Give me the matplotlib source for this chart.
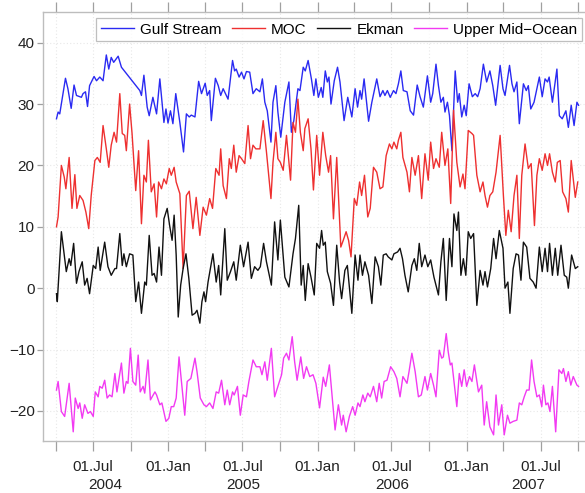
import numpy as np
import matplotlib
matplotlib.use("Agg")
import matplotlib.pyplot as plt
import matplotlib.dates as mdates
from matplotlib.ticker import FuncFormatter
import matplotlib.transforms as mtransforms

plt.rcParams['font.family'] = ['Liberation Sans', 'DejaVu Sans']

START = np.datetime64('2004-04-01')

# ---- data: (day offset from 2004-04-01, transport in Sv) ----
gulf_days = [1, 5, 9, 23, 29, 37, 44, 50, 62, 66, 72, 77, 82, 93, 99, 107, 115, 123, 129, 135,
             141, 152, 160, 205, 209, 215, 223, 228, 237, 246, 254, 264, 269, 274, 280, 286, 293,
             303, 312, 319, 326, 331, 340, 349, 356, 365, 370, 376, 380, 390, 397, 403, 409, 421,
             432, 437, 441, 448, 454, 460, 466, 474, 482, 490, 499, 505, 511, 517, 526, 531, 538,
             543, 550, 560, 570, 576, 582, 592, 597, 605, 610, 617, 625, 631, 636, 642, 649, 653,
             659, 664, 668, 673, 681, 689, 695, 705, 714, 724, 732, 738, 744, 748, 754, 765, 773,
             785, 793, 800, 805, 811, 818, 826, 832, 838, 844, 850, 859, 867, 875, 884, 891, 899,
             909, 917, 922, 930, 936, 942, 948, 952, 958, 963, 969, 977, 983, 987, 993, 999, 1004,
             1011, 1019, 1026, 1032, 1038, 1046, 1054, 1062, 1069, 1076, 1087, 1094, 1099, 1110,
             1116, 1121, 1128, 1134, 1144, 1151, 1156, 1162, 1170, 1183, 1190, 1197, 1203, 1207,
             1215, 1226, 1232, 1239, 1248, 1254, 1261, 1268, 1275, 1279]
gulf_vals = [27.6, 28.7, 28.4, 34.2, 32.5, 29.3, 33.1, 31.4, 31.1, 31.7, 32.0, 29.6, 33.0, 34.5,
             33.8, 34.4, 33.8, 38.0, 35.7, 37.6, 36.8, 37.8, 36.0, 32.2, 31.4, 34.7, 29.5, 28.1,
             31.1, 28.4, 34.1, 27.0, 29.2, 26.9, 28.9, 26.8, 31.7, 27.0, 22.2, 28.4, 27.9, 28.2,
             27.9, 33.7, 31.7, 33.4, 31.4, 32.2, 27.3, 34.2, 33.0, 31.4, 32.5, 30.8, 37.1, 35.4,
             35.7, 34.4, 35.2, 34.1, 35.3, 35.2, 31.7, 32.5, 32.0, 34.1, 30.3, 28.9, 23.8, 30.3,
             33.0, 28.7, 24.6, 30.3, 33.6, 25.4, 27.3, 32.5, 32.2, 36.0, 35.4, 37.1, 34.1, 31.4,
             34.1, 31.1, 32.7, 31.1, 35.4, 33.6, 34.4, 30.0, 33.8, 36.0, 33.6, 27.3, 31.1, 27.9,
             32.5, 29.5, 32.2, 30.8, 34.1, 27.2, 30.3, 34.1, 31.2, 32.2, 31.4, 32.2, 31.1, 32.2,
             31.7, 33.3, 35.4, 32.2, 32.0, 28.9, 28.2, 33.1, 31.2, 29.5, 34.6, 30.3, 31.7, 36.5,
             33.0, 30.3, 31.1, 28.7, 30.3, 28.1, 22.4, 35.4, 30.3, 31.7, 27.9, 29.8, 28.1, 33.3,
             31.2, 31.7, 31.2, 32.5, 36.5, 33.6, 35.4, 33.0, 29.8, 36.3, 32.5, 31.4, 36.3, 33.3,
             32.0, 33.6, 26.8, 33.3, 32.2, 33.0, 29.2, 30.3, 34.4, 31.2, 34.1, 33.6, 34.4, 30.3,
             35.7, 28.1, 27.6, 28.9, 26.2, 29.8, 26.5, 30.3, 29.8]

moc_days = [1, 5, 13, 20, 24, 32, 39, 46, 51, 58, 66, 73, 80, 86, 95, 101, 108, 115, 123, 129,
            135, 142, 148, 156, 162, 168, 172, 180, 186, 195, 202, 209, 215, 221, 226, 233, 240,
            246, 251, 258, 264, 270, 277, 282, 289, 294, 303, 311, 319, 326, 335, 343, 352, 360,
            368, 376, 383, 391, 399, 403, 409, 417, 424, 429, 435, 441, 448, 454, 462, 470, 476,
            482, 489, 499, 507, 515, 526, 531, 538, 543, 549, 556, 564, 574, 580, 586, 592, 598,
            605, 609, 617, 624, 630, 638, 645, 653, 660, 667, 672, 679, 687, 697, 703, 710, 716,
            722, 730, 736, 743, 748, 755, 763, 769, 777, 785, 793, 800, 808, 816, 822, 827, 834,
            838, 844, 849, 859, 865, 871, 879, 887, 895, 903, 911, 917, 924, 930, 938, 944, 952,
            959, 966, 973, 981, 989, 996, 1001, 1009, 1018, 1022, 1030, 1038, 1045, 1050, 1056,
            1062, 1069, 1077, 1087, 1095, 1101, 1107, 1114, 1121, 1128, 1134, 1140, 1148, 1156,
            1163, 1171, 1177, 1183, 1190, 1197, 1203, 1208, 1215, 1222, 1227, 1234, 1240, 1248,
            1254, 1261, 1271, 1277]
moc_vals = [10.0, 11.6, 20.0, 18.1, 16.2, 21.3, 13.0, 18.5, 13.0, 15.1, 14.3, 12.4, 9.7, 15.1,
            20.8, 21.3, 20.5, 26.5, 22.7, 19.7, 23.3, 25.4, 23.8, 31.7, 25.2, 24.9, 22.4, 30.0,
            25.2, 15.9, 22.4, 10.5, 18.4, 17.3, 24.1, 15.7, 17.0, 11.6, 17.3, 16.2, 17.8, 17.0,
            19.5, 18.4, 19.7, 17.3, 15.4, 3.2, 15.1, 15.8, 9.7, 14.8, 8.6, 13.2, 11.9, 14.6, 13.0,
            19.5, 18.4, 22.7, 16.7, 14.6, 21.1, 19.5, 23.3, 18.9, 21.6, 21.1, 20.3, 26.5, 21.1,
            23.3, 22.7, 22.7, 27.3, 22.2, 14.6, 20.5, 25.4, 21.1, 20.5, 19.2, 24.9, 17.6, 27.0,
            25.4, 30.8, 25.4, 22.4, 26.0, 27.6, 22.7, 16.0, 24.9, 18.4, 25.4, 21.6, 18.9, 21.6,
            11.3, 21.3, 6.7, 7.8, 9.2, 7.8, 5.1, 14.6, 13.5, 17.3, 15.1, 18.4, 11.6, 13.0, 19.7,
            18.9, 16.2, 16.5, 21.6, 23.5, 22.7, 23.8, 22.7, 24.1, 25.4, 21.3, 18.9, 15.7, 21.3,
            18.4, 21.6, 14.6, 21.9, 17.6, 23.8, 19.5, 21.1, 19.7, 25.4, 20.0, 22.7, 13.8, 29.0,
            20.5, 16.5, 18.6, 16.2, 25.7, 25.2, 24.9, 18.4, 15.7, 17.3, 15.1, 13.2, 15.1, 15.7,
            18.9, 24.9, 15.1, 8.6, 12.7, 9.2, 15.1, 18.4, 8.1, 18.4, 23.5, 19.5, 20.3, 10.2, 18.4,
            21.1, 19.2, 21.9, 20.0, 21.9, 18.9, 17.3, 20.5, 20.8, 15.7, 14.6, 12.4, 20.8, 14.8,
            17.3]

ekman_days = [1, 3, 13, 19, 25, 32, 36, 43, 50, 56, 64, 70, 76, 82, 91, 97, 103, 108, 119, 127,
              135, 144, 148, 156, 162, 166, 172, 180, 188, 195, 202, 209, 217, 221, 228, 235, 240,
              246, 252, 258, 264, 272, 278, 284, 289, 294, 299, 305, 311, 318, 325, 333, 340, 345,
              352, 357, 362, 366, 372, 384, 392, 398, 403, 413, 419, 427, 435, 441, 451, 459, 470,
              478, 486, 494, 500, 508, 515, 527, 535, 543, 549, 560, 570, 580, 586, 594, 600, 605,
              610, 617, 624, 632, 638, 645, 650, 654, 659, 664, 672, 679, 687, 694, 699, 707, 713,
              724, 732, 739, 744, 750, 756, 765, 773, 781, 789, 795, 801, 808, 813, 822, 827, 836,
              842, 848, 854, 862, 871, 877, 883, 889, 895, 903, 910, 917, 925, 936, 942, 948, 955,
              963, 969, 974, 981, 985, 991, 997, 1003, 1009, 1015, 1022, 1030, 1038, 1045, 1050,
              1056, 1064, 1071, 1077, 1085, 1094, 1099, 1106, 1111, 1119, 1126, 1132, 1138, 1144,
              1152, 1160, 1168, 1175, 1183, 1190, 1197, 1203, 1208, 1215, 1222, 1228, 1236, 1244,
              1250, 1254, 1262, 1271, 1277]
ekman_vals = [-0.9, -2.2, 9.2, 5.9, 2.7, 4.8, 3.7, 7.3, 0.8, 2.7, 4.3, 0.5, 1.6, -0.9, 3.7, 3.2,
              6.7, 2.9, 7.5, 3.5, 2.1, 3.2, 3.2, 8.9, 3.7, 5.6, 3.5, 5.6, 5.4, -2.2, 1.0, -4.1, 1.0,
              0.5, 8.6, 2.1, 2.4, 1.0, 6.7, 2.1, 11.3, 13.0, 10.2, 7.8, 11.9, 5.4, -4.7, 0.5, 3.2,
              5.6, 1.6, -4.4, -4.1, -3.6, -5.7, -2.2, -0.6, -2.2, 1.0, 5.6, 1.0, 3.7, -1.1, 9.7,
              1.3, 2.7, 4.3, 1.3, 7.0, 3.5, 7.5, 1.6, 3.5, 2.9, 3.5, 7.3, 4.3, 0.5, 10.8, 4.6,
              11.1, 1.8, 0.2, 5.6, 8.1, 13.5, 0.5, 3.7, -2.0, 4.0, 1.8, -1.1, 7.3, 6.5, 9.4, 7.0,
              7.5, 2.7, 0.8, -2.8, 7.0, 1.0, -1.7, 2.9, 3.7, -4.1, 5.4, 1.3, 5.4, 2.1, 4.3, 2.1,
              -2.5, 5.1, 3.5, 0.5, 5.4, 5.6, 5.1, 4.6, 5.6, 5.9, 6.5, 4.8, 2.1, -0.6, 3.7, 4.8,
              2.9, 7.3, 3.5, 5.4, 3.5, 4.6, 1.8, -1.1, 4.3, 8.1, -2.0, 8.1, 3.5, 12.1, 9.4, 12.4,
              2.1, 4.8, 2.1, 9.2, 8.1, 8.9, -2.8, 2.9, 0.5, 2.7, 0.2, 3.2, 8.1, 4.8, 9.4, 6.5, 0.0,
              1.0, -4.1, 3.2, 5.6, 5.4, 1.3, 7.5, 6.7, 1.6, 1.0, 0.0, 6.7, 2.7, 6.5, 2.7, 7.3, 2.1,
              6.5, 2.1, 7.0, 2.1, 1.8, 0.0, 5.4, 3.2, 3.5]

umo_days = [1, 5, 13, 21, 32, 42, 47, 54, 58, 64, 70, 78, 84, 91, 96, 103, 107, 113, 119, 125,
            131, 137, 144, 149, 160, 166, 172, 176, 182, 188, 195, 201, 206, 213, 217, 225, 231,
            242, 246, 254, 259, 269, 276, 282, 288, 294, 301, 307, 315, 321, 330, 340, 345, 353,
            362, 368, 376, 384, 392, 398, 405, 413, 419, 425, 432, 436, 444, 451, 458, 466, 472,
            482, 490, 499, 504, 511, 517, 527, 535, 543, 552, 557, 564, 570, 578, 584, 590, 599,
            606, 613, 621, 629, 636, 645, 654, 660, 669, 683, 691, 699, 703, 710, 718, 726, 732,
            739, 744, 751, 756, 763, 769, 777, 785, 791, 797, 803, 810, 819, 827, 834, 842, 849,
            859, 864, 871, 879, 887, 894, 903, 909, 917, 924, 930, 938, 944, 948, 955, 960, 965,
            969, 975, 981, 987, 993, 999, 1005, 1012, 1018, 1024, 1034, 1042, 1048, 1054, 1062,
            1071, 1077, 1083, 1091, 1097, 1105, 1111, 1119, 1128, 1134, 1140, 1146, 1152, 1158,
            1164, 1170, 1177, 1183, 1189, 1193, 1199, 1204, 1209, 1215, 1223, 1231, 1238, 1242,
            1248, 1254, 1260, 1266, 1275, 1279]
umo_vals = [-16.6, -15.2, -20.1, -20.9, -15.5, -23.4, -17.9, -19.6, -18.7, -21.2, -19.0, -20.4,
            -20.1, -20.9, -16.9, -17.7, -16.0, -16.3, -15.0, -17.9, -17.4, -17.7, -13.9, -16.9,
            -12.2, -17.1, -15.2, -15.5, -9.8, -15.2, -15.8, -10.9, -16.9, -16.0, -17.1, -11.7,
            -18.2, -16.9, -17.4, -19.0, -18.7, -21.7, -21.2, -19.3, -19.3, -17.9, -11.2, -15.2,
            -20.7, -15.2, -14.7, -11.4, -13.6, -17.9, -19.0, -19.3, -18.7, -19.6, -16.9, -17.1,
            -15.0, -19.0, -16.6, -19.0, -16.9, -17.4, -16.0, -20.7, -17.4, -17.7, -15.2, -11.7,
            -12.8, -12.8, -14.1, -12.0, -15.0, -9.8, -17.7, -16.0, -14.1, -11.4, -10.6, -11.7,
            -7.9, -12.0, -15.0, -11.2, -14.7, -12.8, -14.4, -14.1, -15.5, -19.5, -14.5, -16.0,
            -12.5, -23.1, -19.0, -22.3, -20.7, -23.4, -20.9, -19.3, -20.7, -18.7, -19.3, -17.4,
            -18.5, -17.1, -17.7, -16.0, -18.5, -15.5, -17.9, -15.2, -15.0, -12.8, -13.6, -14.7,
            -17.7, -14.4, -15.5, -13.6, -10.6, -13.6, -17.7, -17.4, -14.4, -16.6, -13.9, -15.8,
            -17.7, -10.1, -11.4, -11.2, -7.4, -10.4, -12.5, -12.2, -15.8, -19.3, -13.9, -16.0,
            -13.3, -16.0, -14.4, -15.2, -12.5, -16.9, -15.8, -22.3, -18.5, -22.6, -23.9, -17.4,
            -22.3, -19.0, -23.9, -20.7, -22.0, -21.7, -21.5, -18.7, -19.0, -17.7, -16.6, -16.6,
            -11.7, -15.2, -17.7, -17.4, -19.3, -15.8, -19.0, -18.7, -20.1, -16.0, -23.4, -13.3,
            -13.9, -13.1, -15.2, -13.6, -15.8, -14.4, -15.8, -16.0]

series_names = ["Gulf Stream", "MOC", "Ekman", "Upper Mid\u2212Ocean"]
series_colors = ["#2a2af2", "#ee3030", "#111111", "#f23af2"]
series_days = [gulf_days, moc_days, ekman_days, umo_days]
series_vals = [gulf_vals, moc_vals, ekman_vals, umo_vals]

y_ticks = [-20, -10, 0, 10, 20, 30, 40]
years = [2004, 2005, 2006, 2007]

W, H = 585, 493
fig = plt.figure(figsize=(W / 100, H / 100), dpi=100)
ax_left, ax_right, ax_bottom, ax_top = 43, 590, 441, 12
ax = fig.add_axes([ax_left / W, (H - ax_bottom) / H, (ax_right - ax_left) / W, (ax_bottom - ax_top) / H])

for name, col, d, v in zip(series_names, series_colors, series_days, series_vals):
    t = START + np.array(d, dtype='timedelta64[D]')
    ax.plot(t, v, color=col, lw=1.0, label=name, solid_joinstyle='round')

x0 = START - np.timedelta64(32, 'D')
x1 = START + np.timedelta64(1307, 'D')
ax.set_xlim(x0, x1)
ax.set_ylim(-24.9, 45)

ax.xaxis.set_major_locator(mdates.MonthLocator(bymonth=[1, 4, 7, 10]))

def fmt(x, pos):
    dt = mdates.num2date(x)
    if dt.month == 7:
        return "01.Jul"
    if dt.month == 1:
        return "01.Jan"
    return ""

ax.xaxis.set_major_formatter(FuncFormatter(fmt))
ax.set_yticks(y_ticks)

spine_col = "#bdbdbd"
for s in ["left", "bottom", "top"]:
    ax.spines[s].set_color(spine_col)
    ax.spines[s].set_linewidth(1.0)
ax.spines["right"].set_visible(False)

ax.tick_params(axis='x', which='major', direction='out', length=7, width=0.9, color="#a0a0a0",
               top=True, labelsize=11, labelcolor="#222222", pad=7)
ax.tick_params(axis='y', which='major', direction='out', length=4, width=0.9, color="#a0a0a0",
               labelsize=11, labelcolor="#222222", pad=2)

ax.grid(True, color="#e8e8e8", linestyle=(0, (1, 2)), linewidth=0.8)
ax.set_axisbelow(True)

# year labels centred on the visible part of each year
trans = mtransforms.blended_transform_factory(ax.transData, fig.transFigure)
for yr in years:
    a = max(np.datetime64(f"{yr}-01-01"), x0)
    b = min(np.datetime64(f"{yr + 1}-01-01"), x1)
    mid = a + (b - a) / 2
    ax.text(mdates.date2num(mid), 1 - 478 / H, str(yr), transform=trans, ha='center', va='top',
            fontsize=11, color="#222222", clip_on=False)

leg = ax.legend(loc='upper right', bbox_to_anchor=(582 / W, 1 - 18 / H), bbox_transform=fig.transFigure,
                ncol=4, frameon=True, fancybox=False, fontsize=11, handlelength=2.15,
                handletextpad=0.4, columnspacing=0.7, borderpad=0.3, borderaxespad=0)
leg.get_frame().set_edgecolor("#b0b0b0")
leg.get_frame().set_linewidth(0.9)

fig.savefig("out.png", dpi=100)
